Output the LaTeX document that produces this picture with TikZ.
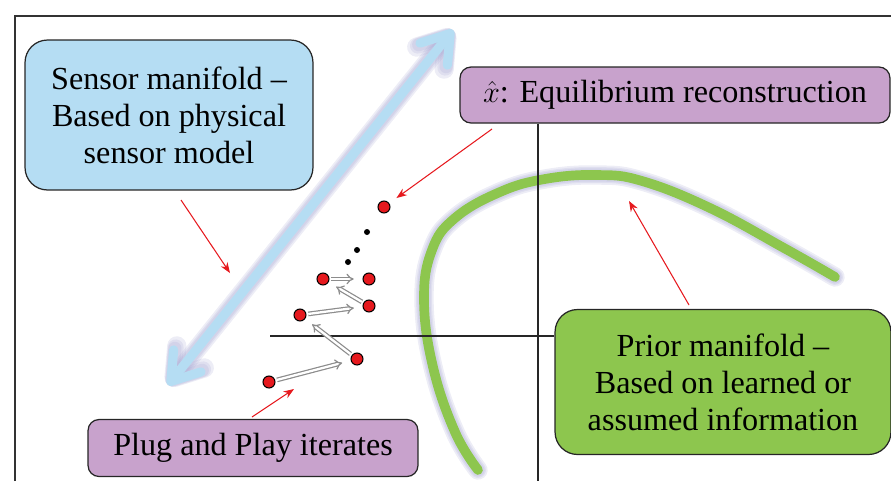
\documentclass[tikz,border=0pt]{standalone}
\usepackage{fontspec}
\setmainfont{Liberation Serif}
\newfontfamily\boxfont[Ligatures=TeX]{Liberation Serif}
\usetikzlibrary{arrows.meta}

\definecolor{sensorblue}{RGB}{181,221,243}
\definecolor{priorgreen}{RGB}{141,198,78}
\definecolor{boxpurple}{RGB}{200,162,204}
\definecolor{glowcol}{RGB}{165,165,210}
\definecolor{framegray}{RGB}{50,50,50}
\definecolor{dotred}{RGB}{230,25,30}

\tikzset{
  box/.style={draw=black!85, line width=0.7pt, fill=#1, align=center,
    font=\boxfont\fontsize{18.3}{21}\selectfont, inner sep=0pt},
  glow/.style={draw=glowcol, opacity=.2, line width=#1, line cap=round, line join=round},
  barb/.style={{Straight Barb[length=15pt,width=20pt,round]}-{Straight Barb[length=15pt,width=20pt,round]}},
  note/.style={draw=dotred, line width=0.6pt, -{Stealth[length=6pt,width=4.5pt]}},
}

\begin{document}
\begin{tikzpicture}[x=0.02cm,y=-0.02cm]
\useasboundingbox (0,0) rectangle (891,481);

  % frame
  \draw[framegray, line width=1.6pt] (15,481) -- (15,16) -- (891,16);

  % sensor manifold
  \coordinate (slo) at (168,385);
  \coordinate (shi) at (453,30);
  \foreach \w in {11pt,9pt,7.5pt}
    \draw[glow=\w, barb] (slo) -- (shi);
  \draw[sensorblue, line width=5.2pt, line cap=round, barb] (slo) -- (shi);

  % prior manifold
  \foreach \w in {11pt,9pt,7.5pt}
    \draw[glow=\w] plot[smooth, tension=0.7] coordinates {(478,470) (455,432) (433,367) (424,300) (432,250) (455,218) (500,192) (545,179) (597,175) (642,181) (710,208) (784,248) (835,277)};
  \draw[priorgreen, line width=5.5pt, line cap=round] plot[smooth, tension=0.7] coordinates {(478,470) (455,432) (433,367) (424,300) (432,250) (455,218) (500,192) (545,179) (597,175) (642,181) (710,208) (784,248) (835,277)};

  % boxes
  \node[box=sensorblue, minimum width=5.76cm, minimum height=3cm, rounded corners=0.45cm] (sensor) at (169,115)
    {Sensor manifold –\\Based on physical\\sensor model};
  \node[box=boxpurple, minimum width=8.6cm, minimum height=1.12cm, rounded corners=0.22cm] (eq) at (675,95)
    {$\hat{x}$: Equilibrium reconstruction};
  \node[box=priorgreen, minimum width=6.72cm, minimum height=2.9cm, rounded corners=0.45cm] (prior) at (723,382)
    {Prior manifold –\\Based on learned or\\assumed information};
  \node[box=boxpurple, minimum width=6.6cm, minimum height=1.14cm, rounded corners=0.22cm] (plug) at (253,448)
    {Plug and Play iterates};

  % axes
  \coordinate (hl) at (270,336);
  \coordinate (vb) at (538,481);
  \draw[black!85, line width=0.6pt] (hl) -- (hl -| prior.west);
  \draw[black!85, line width=0.6pt] (vb |- eq.south) -- (vb);

  % iterates
  \begin{scope}[every node/.style={circle, draw, fill=dotred, inner sep=0pt, minimum size=0.24cm, line width=0.6pt}]
    \node (1) at (269,382) {};
    \node (2) at (357,359) {};
    \node (3) at (300,315) {};
    \node (4) at (369,306) {};
    \node (5) at (323,279) {};
    \node (6) at (369,279) {};
    \node (7) at (384,207) {};
  \end{scope}

  \begin{scope}[every node/.style={circle, fill=black, inner sep=0pt, minimum size=0.12cm}]
    \node (d1) at (348,262) {};
    \node (d2) at (357,250) {};
    \node (d3) at (367,232) {};
  \end{scope}

  \begin{scope}[every edge/.style={draw=black!45, double=white, double distance=1.3pt, line width=0.7pt,
                                   -Implies, shorten >=5pt, shorten <=1pt}]
    \path (1) edge (2);
    \path (2) edge (3);
    \path (3) edge (4);
    \path (4) edge (5);
    \path (5) edge (6);
  \end{scope}

  % pointers
  \coordinate (a1) at (181,200);
  \coordinate (a1e) at (230,273);
  \coordinate (a2) at (492,129);
  \coordinate (a3) at (689,305);
  \coordinate (a3e) at (629,201);
  \coordinate (a4) at (252,417);
  \coordinate (a4e) at (294,389);
  \draw[note] (a1) -- (a1e);
  \draw[note, shorten >=5pt] (a2) -- (7);
  \draw[note] (a3) -- (a3e);
  \draw[note] (a4) -- (a4e);

\end{tikzpicture}
\end{document}
